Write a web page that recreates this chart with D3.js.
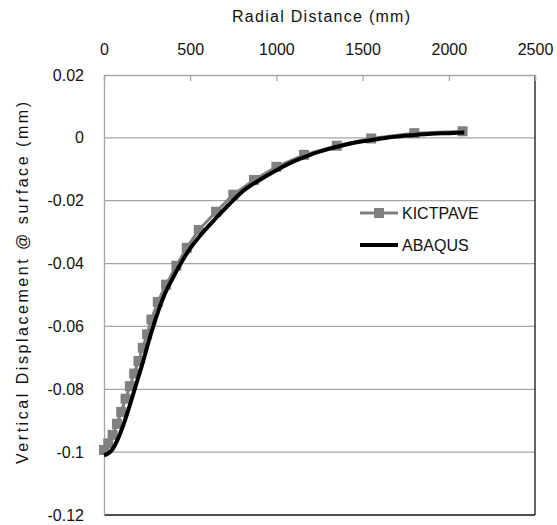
<!DOCTYPE html>
<html>
<head>
<meta charset="utf-8">
<script src="https://cdn.jsdelivr.net/npm/d3@7"></script>
<style>
  html, body { margin: 0; padding: 0; background: #fff; }
  svg { display: block; font-family: "Liberation Sans", Arial, sans-serif; }
</style>
</head>
<body>
<svg id="chart" width="557" height="525"></svg>
<script>
// ---- data ----
const kictX = [0, 25, 50, 75, 100, 125, 150, 175, 200, 225, 250, 275, 312, 360, 420, 480, 550, 650, 750, 870, 1000, 1160, 1350, 1550, 1800, 2080];
const kictY = [-0.0993, -0.0972, -0.0945, -0.0910, -0.0872, -0.0830, -0.0790, -0.0750, -0.0710, -0.0668, -0.0625, -0.0578, -0.0522, -0.0467, -0.0407, -0.0350, -0.0293, -0.0235, -0.0181, -0.0134, -0.0092, -0.0054, -0.0025, -0.0002, 0.0015, 0.0021];
const abaqusX = [0, 25, 50, 75, 100, 125, 150, 175, 200, 225, 250, 300, 350, 400, 450, 500, 575, 650, 725, 800, 900, 1000, 1100, 1200, 1300, 1400, 1500, 1600, 1700, 1800, 1900, 2000, 2090];
const abaqusY = [-0.1010, -0.1004, -0.0990, -0.0965, -0.0932, -0.0893, -0.0850, -0.0805, -0.0760, -0.0715, -0.0665, -0.0575, -0.0500, -0.0445, -0.0395, -0.0352, -0.0300, -0.0255, -0.0212, -0.0172, -0.0135, -0.0103, -0.0075, -0.0053, -0.0036, -0.0022, -0.0011, -0.0003, 0.0004, 0.0009, 0.0013, 0.0015, 0.0017];
const xTicks = [0, 500, 1000, 1500, 2000, 2500];
const yTicks = [0.02, 0, -0.02, -0.04, -0.06, -0.08, -0.1, -0.12];
const seriesNames = ["KICTPAVE", "ABAQUS"];
const xTitle = "Radial Distance  (mm)";
const yTitle = "Vertical Displacement  @ surface (mm)";

// ---- layout ----
const L = 104, R = 535, T = 75, B = 515;
const svg = d3.select("#chart");
const x = d3.scaleLinear().domain([0, 2500]).range([L, R]);
const y = d3.scaleLinear().domain([-0.12, 0.02]).range([B, T]);

// gridlines
svg.append("g").selectAll("line").data(yTicks.filter(d => d > -0.12 && d < 0.02)).join("line")
  .attr("x1", L).attr("x2", R).attr("y1", d => y(d)).attr("y2", d => y(d))
  .attr("stroke", "#a6a6a6").attr("stroke-width", 1.3);

// plot borders: right & bottom dark
svg.append("line").attr("x1", R).attr("x2", R).attr("y1", T).attr("y2", B).attr("stroke", "#111").attr("stroke-width", 1.3);
svg.append("line").attr("x1", L).attr("x2", R).attr("y1", B).attr("y2", B).attr("stroke", "#111").attr("stroke-width", 1.3);

// x axis on top
const xAxis = d3.axisTop(x).tickValues(xTicks).tickSize(-6).tickPadding(20).tickFormat(d3.format("d"));
const gx = svg.append("g").attr("transform", `translate(0,${T})`).call(xAxis);
gx.select(".domain").attr("stroke", "#a6a6a6").attr("stroke-width", 1.3);
gx.selectAll(".tick line").attr("stroke", "#a6a6a6").attr("stroke-width", 1.3);
gx.selectAll(".tick text").attr("font-size", 16).attr("fill", "#111").attr("font-family", "Liberation Sans, Arial, sans-serif");

// y axis
const yAxis = d3.axisLeft(y).tickValues(yTicks).tickSize(0).tickPadding(20).tickFormat(d => d === 0 ? "0" : String(d));
const gy = svg.append("g").attr("transform", `translate(${L},0)`).call(yAxis);
gy.select(".domain").attr("stroke", "#a6a6a6").attr("stroke-width", 1.3);
gy.selectAll(".tick text").attr("font-size", 16).attr("fill", "#111").attr("font-family", "Liberation Sans, Arial, sans-serif");

// titles
svg.append("text").attr("x", 321).attr("y", 22).attr("text-anchor", "middle")
  .attr("font-size", 16).attr("fill", "#111").attr("textLength", 178).attr("lengthAdjust", "spacing").text(xTitle);
svg.append("text").attr("transform", `translate(28,283) rotate(-90)`).attr("text-anchor", "middle")
  .attr("font-size", 16).attr("fill", "#111").attr("textLength", 362).attr("lengthAdjust", "spacing").text(yTitle);

// KICTPAVE series
const kict = kictX.map((d, i) => [d, kictY[i]]);
const abaqus = abaqusX.map((d, i) => [d, abaqusY[i]]);
const line = d3.line().x(d => x(d[0])).y(d => y(d[1]));
svg.append("path").datum(kict).attr("d", line).attr("fill", "none").attr("stroke", "#808080").attr("stroke-width", 3);
const ms = 10;
svg.append("g").selectAll("rect").data(kict).join("rect")
  .attr("x", d => x(d[0]) - ms / 2).attr("y", d => y(d[1]) - ms / 2)
  .attr("width", ms).attr("height", ms).attr("fill", "#808080");

// ABAQUS series
svg.append("path").datum(abaqus).attr("d", line.curve(d3.curveMonotoneX)).attr("fill", "none")
  .attr("stroke", "#000").attr("stroke-width", 4).attr("stroke-linejoin", "round");

// legend
const lg = svg.append("g");
const legY = [213, 245];
lg.append("line").attr("x1", 360).attr("x2", 398).attr("y1", legY[0]).attr("y2", legY[0]).attr("stroke", "#808080").attr("stroke-width", 3);
lg.append("rect").attr("x", 379 - ms / 2).attr("y", legY[0] - ms / 2).attr("width", ms).attr("height", ms).attr("fill", "#808080");
lg.append("line").attr("x1", 360).attr("x2", 398).attr("y1", legY[1]).attr("y2", legY[1]).attr("stroke", "#000").attr("stroke-width", 4);
lg.selectAll("text").data(seriesNames).join("text")
  .attr("x", 402).attr("y", (d, i) => legY[i]).attr("dy", "0.35em")
  .attr("font-size", 16).attr("fill", "#111").text(d => d);
</script>
</body>
</html>
